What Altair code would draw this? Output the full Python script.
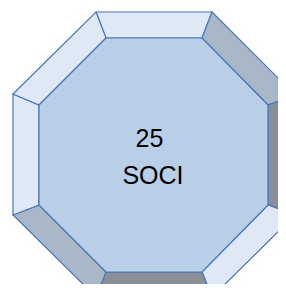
import altair as alt

# Octagon vertices (page pixel coordinates)
outer_x = [96, 212, 295, 295, 212, 96, 13, 13]
outer_y = [12, 12, 95, 215, 297, 297, 215, 94]
inner_x = [106, 202, 268, 268, 202, 106, 39, 39]
inner_y = [38, 38, 105, 205, 272, 272, 205, 105]
face_names = ["top", "top-right", "right", "bottom-right", "bottom", "bottom-left", "left", "top-left"]
face_tones = ["light", "mid", "dark", "light", "dark", "mid", "light", "light"]
tone_domain = ["center", "light", "mid", "dark"]
tone_range = ["#B9CFE7", "#DEE9F5", "#A8B8C9", "#8A8E95"]
labels = ["25", "SOCI"]
label_x = [141.5, 145]
label_y = [139, 176]

features = []
n = len(outer_x)
for k in range(n):
    j = (k + 1) % n
    ring = [[outer_x[k], outer_y[k]], [outer_x[j], outer_y[j]],
            [inner_x[j], inner_y[j]], [inner_x[k], inner_y[k]],
            [outer_x[k], outer_y[k]]]
    features.append({"type": "Feature",
                     "geometry": {"type": "Polygon", "coordinates": [ring]},
                     "properties": {"name": face_names[k], "tone": face_tones[k]}})
center_ring = [[inner_x[k], inner_y[k]] for k in range(n)] + [[inner_x[0], inner_y[0]]]
features.append({"type": "Feature",
                 "geometry": {"type": "Polygon", "coordinates": [center_ring]},
                 "properties": {"name": "center", "tone": "center"}})

shapes = alt.Chart(alt.Data(values=features)).mark_geoshape(
    stroke="#4A76B8", strokeWidth=1.2, clip=True
).encode(
    color=alt.Color("properties.tone:N",
                    scale=alt.Scale(domain=tone_domain, range=tone_range),
                    legend=None)
).project(type="identity", scale=1, translate=[-8, -8])

texts = []
for t, x, y in zip(labels, label_x, label_y):
    texts.append(
        alt.Chart(alt.Data(values=[{"t": t}])).mark_text(
            font="Liberation Sans", fontSize=25, color="#000000",
            align="center", baseline="alphabetic"
        ).encode(text="t:N", x=alt.value(x), y=alt.value(y))
    )

chart = alt.layer(shapes, *texts).properties(
    width=270, height=276, padding=0
).configure_view(stroke=None)

chart.save("out.html", embed_options={"renderer": "svg", "actions": False})
